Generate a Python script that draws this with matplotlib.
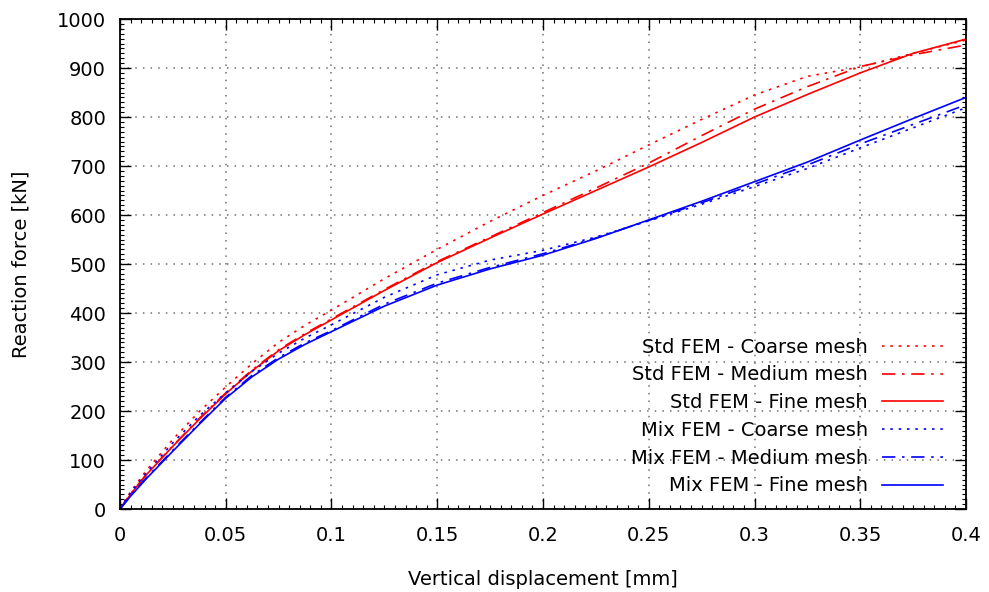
import numpy as np
import matplotlib
matplotlib.use('Agg')
import matplotlib.pyplot as plt
from matplotlib.ticker import MultipleLocator, AutoMinorLocator

# displacement [mm]
disp = [0, 0.005, 0.0125, 0.025, 0.0375, 0.05, 0.0625, 0.075, 0.0875, 0.1,
        0.125, 0.15, 0.175, 0.2, 0.225, 0.25, 0.275, 0.3, 0.325, 0.35, 0.375, 0.4]

# reaction force [kN]
std_coarse = [0, 35, 79, 142, 199, 249, 297, 340, 375, 406,
              470, 530, 587, 640, 690, 743, 795, 845, 883, 902, 930, 957]
std_medium = [0, 31, 71, 129, 185, 237, 284, 325, 358, 388,
              448, 505, 555, 605, 655, 706, 762, 816, 862, 903, 927, 947]
std_fine = [0, 30, 70, 128, 183, 235, 282, 323, 356, 386,
            446, 503, 553, 602, 650, 698, 748, 800, 846, 890, 930, 959]
mix_coarse = [0, 33, 74, 135, 190, 237, 281, 318, 349, 376,
              432, 478, 508, 528, 555, 588, 622, 658, 695, 737, 778, 819]
mix_medium = [0, 27, 64, 120, 175, 228, 273, 309, 339, 364,
              418, 461, 493, 521, 553, 589, 625, 663, 702, 745, 785, 825]
mix_fine = [0, 26, 62, 118, 173, 226, 270, 306, 336, 362,
            414, 457, 490, 518, 552, 590, 628, 668, 708, 753, 797, 840]

labels = ['Std FEM - Coarse mesh', 'Std FEM - Medium mesh', 'Std FEM - Fine mesh',
          'Mix FEM - Coarse mesh', 'Mix FEM - Medium mesh', 'Mix FEM - Fine mesh']

dotted = (0, (1.5, 3.5))
dashdot = (0, (8, 4, 1.5, 4))
solid = '-'
fs = 14

fig = plt.figure(figsize=(9.89, 5.92), dpi=100)
ax = fig.add_axes([0.1213, 0.1402, 0.8555, 0.8277])

series = [(std_coarse, 'red', dotted), (std_medium, 'red', dashdot), (std_fine, 'red', solid),
          (mix_coarse, 'blue', dotted), (mix_medium, 'blue', dashdot), (mix_fine, 'blue', solid)]
for (vals, col, ls), lab in zip(series, labels):
    ax.plot(disp, vals, color=col, linestyle=ls, linewidth=1.2, label=lab)

ax.set_xlim(0, 0.4)
ax.set_ylim(0, 1000)
ax.xaxis.set_major_locator(MultipleLocator(0.05))
ax.yaxis.set_major_locator(MultipleLocator(100))
ax.xaxis.set_minor_locator(AutoMinorLocator(10))
ax.yaxis.set_minor_locator(AutoMinorLocator(10))
ax.set_xticks(np.arange(0, 0.4001, 0.05))
ax.set_xticklabels(['0', '0.05', '0.1', '0.15', '0.2', '0.25', '0.3', '0.35', '0.4'])

ax.grid(True, which='major', color='#707070', linestyle=(0, (1, 4)), linewidth=1.1)
ax.tick_params(which='major', direction='in', length=8, width=1, top=True, right=True,
               labelsize=fs, pad=10)
ax.tick_params(which='minor', direction='in', length=3, width=0.8, top=True, right=True)
ax.tick_params(axis='x', which='major', pad=12)
for s in ax.spines.values():
    s.set_linewidth(1.3)

ax.set_xlabel('Vertical displacement [mm]', fontsize=fs, labelpad=18)
ax.set_ylabel('Reaction force [kN]', fontsize=fs, labelpad=19)

leg = ax.legend(loc='lower right', frameon=False, markerfirst=False, fontsize=fs,
                handlelength=3.14, handletextpad=0.72, labelspacing=0.45,
                borderaxespad=0.3, bbox_to_anchor=(0.989, 0.0))

fig.savefig('out.png', dpi=100)
